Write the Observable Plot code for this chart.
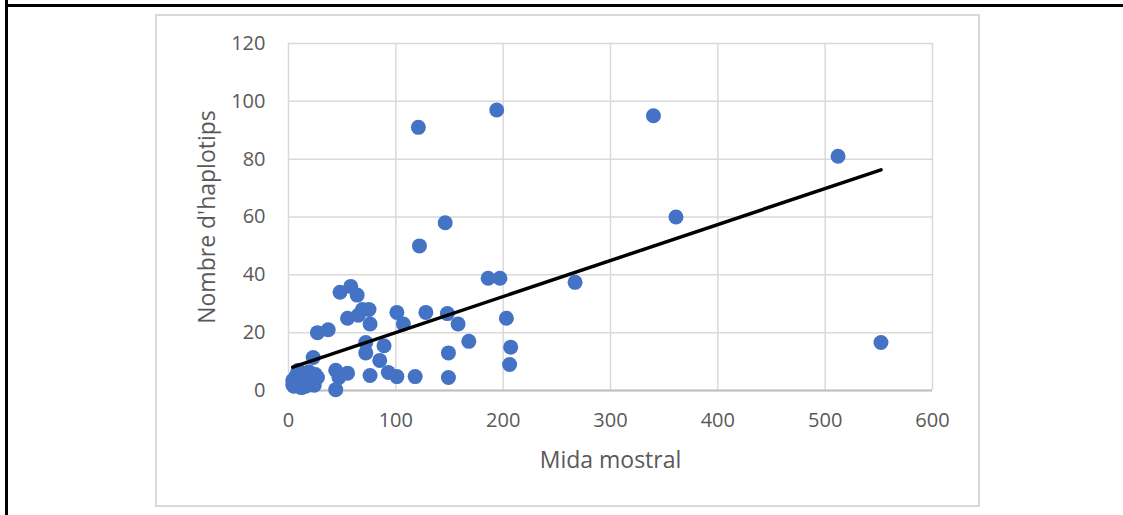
<!DOCTYPE html>
<html>
<head>
<meta charset="utf-8">
<script src="https://cdn.jsdelivr.net/npm/d3@7"></script>
<script src="https://cdn.jsdelivr.net/npm/@observablehq/plot@0.6"></script>
<style>
  html, body { margin: 0; padding: 0; background: #fff; }
  #wrap { position: relative; width: 1123px; height: 515px; overflow: hidden; }
  #wrap svg { position: absolute; left: 0; top: 0; }
  .b { position: absolute; pointer-events: none; }
</style>
</head>
<body>
<div id="wrap">
  <div class="b" style="left:155px;top:14px;width:825px;height:493px;border:2px solid #d9d9d9;box-sizing:border-box;"></div>
  <div class="b" style="left:5px;top:4px;width:1118px;height:3px;background:#000;"></div>
  <div class="b" style="left:5px;top:0px;width:2.5px;height:515px;background:#000;"></div>
</div>
<script>
// Data
const xTicks = [0, 100, 200, 300, 400, 500, 600];
const yTicks = [0, 20, 40, 60, 80, 100, 120];
const xTitle = "Mida mostral";
const yTitle = "Nombre d'haplotips";

const sampleSize = [
  121, 194, 340, 512, 361, 552, 146, 122, 186, 197, 267,
  203, 207, 206, 168, 158, 148, 149, 149, 128, 118,
  101, 107, 101, 93, 89, 85, 76, 76, 75, 69, 65, 72, 72,
  58, 48, 64, 55, 55, 44, 47, 44, 37, 27, 23,
  4, 4, 5, 7, 8, 9, 10, 12, 13, 15, 17, 19, 21, 23, 25, 27, 11, 6, 24, 16
];
const haplotypes = [
  91, 97, 95, 81, 60, 16.6, 58, 50, 38.8, 38.8, 37.4,
  25, 15, 9, 17, 23, 26.6, 13, 4.5, 27, 4.8,
  27, 23, 4.8, 6.2, 15.5, 10.4, 5.2, 23, 28, 28, 26, 16.6, 13,
  36, 34, 33, 25, 6, 7, 4.5, 0.3, 21, 20, 11.4,
  2, 3.5, 1.5, 5, 2.5, 7, 3, 1, 5, 2.5, 4, 6.5, 2, 3.5, 5.5, 4.5, 4, 2.5, 1.8, 1.5
];
// Linear trendline coefficients
const trendSlope = 0.1245;
const trendIntercept = 7.6;

const points = sampleSize.map((x, i) => ({x, y: haplotypes[i]}));
const xMin = d3.min(sampleSize), xMax = d3.max(sampleSize);
const trend = [xMin, xMax].map(x => ({x, y: trendIntercept + trendSlope * x}));

const chart = Plot.plot({
  width: 1123,
  height: 515,
  marginLeft: 288,
  marginRight: 191,
  marginTop: 43,
  marginBottom: 125,
  style: {background: "transparent", fontFamily: "'Open Sans', sans-serif", color: "#595959"},
  x: {domain: [0, 600]},
  y: {domain: [0, 120]},
  marks: [
    Plot.gridX(xTicks, {stroke: "#d9d9d9", strokeOpacity: 1, strokeWidth: 1.5}),
    Plot.gridY(yTicks, {stroke: "#d9d9d9", strokeOpacity: 1, strokeWidth: 1.5}),
    Plot.ruleY([0], {stroke: "#bfbfbf", strokeWidth: 2}),
    Plot.axisX(xTicks, {tickSize: 0, tickPadding: 22, fontSize: 20, fill: "#595959", label: null}),
    Plot.axisY(yTicks, {tickSize: 0, tickPadding: 23, fontSize: 20, fill: "#595959", label: null}),
    Plot.text([xTitle], {frameAnchor: "bottom", dy: 70, fontSize: 23, fill: "#595959", lineAnchor: "middle"}),
    Plot.text([yTitle], {frameAnchor: "left", dx: -81, rotate: -90, fontSize: 23, fill: "#595959", textAnchor: "middle", lineAnchor: "middle"}),
    Plot.dot(points, {x: "x", y: "y", r: 7.5, fill: "#4472C4", stroke: "none"}),
    Plot.line(trend, {x: "x", y: "y", stroke: "#000", strokeWidth: 3.5})
  ]
});
const wrapEl = document.getElementById("wrap");
wrapEl.insertBefore(chart, wrapEl.firstChild);
</script>
</body>
</html>
